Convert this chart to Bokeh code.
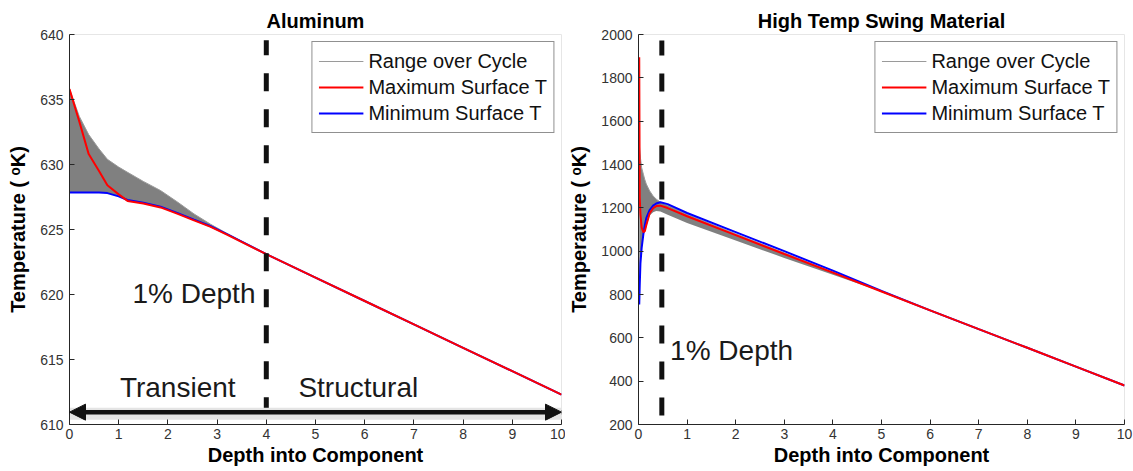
from bokeh.plotting import figure
from bokeh.models import Legend, LegendItem, Arrow, NormalHead, FixedTicker
from bokeh.layouts import row
from bokeh.core.properties import value
from bokeh.embed import file_html
from bokeh.resources import INLINE

# ---------------- data ----------------
x_ticks = [0, 1, 2, 3, 4, 5, 6, 7, 8, 9, 10]

# Aluminum
al_y_ticks = [610, 615, 620, 625, 630, 635, 640]
al_depth = [0.0, 0.2, 0.39, 0.6, 0.77, 1.0, 1.18, 1.5, 1.85, 2.2, 2.53, 2.87, 3.2, 4.0,
            5.0, 6.0, 7.0, 8.0, 9.0, 10.0]
al_max = [635.8, 633.3, 630.8, 629.5, 628.4, 627.7, 627.2, 627.0, 626.7, 626.2, 625.7, 625.2,
          624.6, 623.1, 621.3, 619.5, 617.7, 615.9, 614.1, 612.3]
al_min = [627.85, 627.85, 627.85, 627.85, 627.8, 627.55, 627.27, 627.06, 626.76, 626.26, 625.76,
          625.25, 624.64, 623.1, 621.3, 619.5, 617.7, 615.9, 614.1, 612.3]
al_range_top = [635.8, 633.7, 632.3, 631.2, 630.4, 629.8, 629.4, 628.7, 628.0, 627.1, 626.2,
                625.4, 624.7, 623.1, 621.3, 619.5, 617.7, 615.9, 614.1, 612.3]
al_range_bottom = al_min
al_one_pct_depth = 4.0
al_dash_span = [639.55, 610.55]
al_arrow_x = [0.0, 10.0]
al_arrow_y = 610.95
al_notes = ["1% Depth", "Transient", "Structural"]

# High temp swing material
ht_y_ticks = [200, 400, 600, 800, 1000, 1200, 1400, 1600, 1800, 2000]
ht_depth = [0.015, 0.025, 0.04, 0.065, 0.1, 0.13, 0.16, 0.23, 0.3, 0.365, 0.45, 0.6, 1.0, 2.0,
            3.0, 4.0, 5.0, 6.0, 7.0, 8.0, 9.0, 10.0]
ht_max = [1895, 1250, 1170, 1110, 1088, 1092, 1120, 1175, 1198, 1208, 1210, 1199, 1161, 1074,
          987, 901, 814, 727, 640, 554, 467, 380]
ht_min = [754, 840, 945, 1015, 1078, 1120, 1152, 1190, 1210, 1220, 1226, 1217, 1176, 1088,
          1000, 910, 816, 727, 640, 554, 467, 380]
ht_range_top = [1495, 1470, 1430, 1385, 1355, 1330, 1310, 1278, 1255, 1240, 1226, 1212, 1170,
                1080, 992, 904, 815, 727, 640, 554, 467, 380]
ht_range_bottom = [754, 840, 945, 1015, 1078, 1088, 1110, 1165, 1180, 1185, 1183, 1168, 1130,
                   1049, 969, 891, 813, 727, 640, 554, 467, 380]
ht_one_pct_depth = 0.48
ht_dash_span = [1972, 237]
ht_notes = ["1% Depth"]

series_labels = ["Range over Cycle", "Maximum Surface T", "Minimum Surface T"]

FONT = "Liberation Sans"
GRAY = "#808080"


def make_panel(title, yr, yticks, depth, vmax, vmin, rtop, rbot, dash_x, dash_span,
               width, border_left, border_right):
    p = figure(width=width, height=471, x_range=(0, 10), y_range=yr,
               output_backend="svg", toolbar_location=None, title=title,
               min_border_left=border_left, min_border_right=border_right,
               min_border_top=34, min_border_bottom=47)
    p.title.align = "center"
    p.title.text_font = FONT
    p.title.text_font_size = "20px"
    p.title.text_font_style = "bold"
    p.title.text_color = "#000000"
    p.title.standoff = 6
    p.grid.visible = False
    p.outline_line_color = "#e6e6e6"
    p.background_fill_color = "white"
    p.border_fill_color = "white"

    for ax in (p.xaxis[0], p.yaxis[0]):
        ax.major_tick_in = 5
        ax.major_tick_out = 0
        ax.minor_tick_line_color = None
        ax.axis_line_color = "#262626"
        ax.major_tick_line_color = "#262626"
        ax.major_label_text_font = FONT
        ax.major_label_text_font_size = "14px"
        ax.major_label_text_color = "#333333"
        ax.axis_label_text_font = FONT
        ax.axis_label_text_font_size = "20px"
        ax.axis_label_text_font_style = "bold"
        ax.axis_label_text_color = "#000000"
    p.xaxis.ticker = FixedTicker(ticks=x_ticks)
    p.yaxis.ticker = FixedTicker(ticks=yticks)
    p.xaxis.axis_label = "Depth into Component"
    p.yaxis.axis_label = "Temperature ( \u1d52K)"
    p.xaxis.major_label_standoff = 4
    p.xaxis.axis_label_standoff = 2
    p.yaxis.major_label_standoff = 6
    p.yaxis.axis_label_standoff = 8

    p.varea(x=depth, y1=rbot, y2=rtop, fill_color=GRAY, fill_alpha=1.0)
    r_range = p.line(x=depth, y=rtop, line_color="#9a9a9a", line_width=1)
    r_min = p.line(x=depth, y=vmin, line_color="#0000ff", line_width=2)
    r_max = p.line(x=depth, y=vmax, line_color="#ff0000", line_width=2)

    p.line(x=[dash_x, dash_x], y=dash_span, line_color="#111111", line_width=5,
           line_dash="18 18", line_dash_offset=3)

    legend = Legend(items=[LegendItem(label=series_labels[0], renderers=[r_range]),
                           LegendItem(label=series_labels[1], renderers=[r_max]),
                           LegendItem(label=series_labels[2], renderers=[r_min])],
                    location="top_right")
    legend.label_text_font = FONT
    legend.label_text_font_size = "20px"
    legend.label_text_color = "#111111"
    legend.glyph_width = 45
    legend.glyph_height = 26
    legend.label_height = 26
    legend.label_standoff = 5
    legend.spacing = 0
    legend.padding = 6
    legend.margin = 7
    legend.border_line_color = "#222222"
    legend.border_line_width = 1
    legend.background_fill_color = "white"
    legend.background_fill_alpha = 1.0
    p.add_layout(legend)
    return p


p1 = make_panel("Aluminum", (610, 640), al_y_ticks, al_depth, al_max, al_min,
                al_range_top, al_range_bottom, al_one_pct_depth, al_dash_span,
                565, 69, 4)
p2 = make_panel("High Temp Swing Material", (200, 2000), ht_y_ticks, ht_depth, ht_max, ht_min,
                ht_range_top, ht_range_bottom, ht_one_pct_depth, ht_dash_span,
                568, 67, 9)

# Aluminum annotations
p1.line(x=al_arrow_x, y=[al_arrow_y - 0.12, al_arrow_y - 0.12], line_color="#e4e4e4",
        line_width=12)
p1.add_layout(Arrow(start=NormalHead(size=16, fill_color="#111111", line_color="#111111"),
                    end=NormalHead(size=16, fill_color="#111111", line_color="#111111"),
                    x_start=al_arrow_x[0], y_start=al_arrow_y,
                    x_end=al_arrow_x[1], y_end=al_arrow_y,
                    line_color="#111111", line_width=4.5))
p1.text(x=[3.78], y=[620.1], text=[al_notes[0]], text_font=value(FONT),
        text_font_size="28px", text_align="right", text_baseline="middle",
        text_color="#1a1a1a")
p1.text(x=[2.2, 5.87], y=[612.87, 612.87], text=al_notes[1:], text_font=value(FONT),
        text_font_size="28px", text_align="center", text_baseline="middle",
        text_color="#1a1a1a")

p2.text(x=[0.65], y=[542], text=ht_notes, text_font=value(FONT),
        text_font_size="28px", text_align="left", text_baseline="middle",
        text_color="#1a1a1a")

layout = row(p1, p2)
open("out.html", "w").write(file_html(layout, INLINE))
